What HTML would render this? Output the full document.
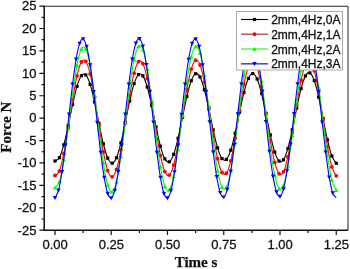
<!DOCTYPE html><html><head><meta charset="utf-8"><style>html,body{margin:0;padding:0;background:#fff;width:350px;height:269px;overflow:hidden}svg{display:block}#w{width:350px;height:269px;will-change:transform}</style></head><body>
<div id="w"><svg width="350" height="269" viewBox="0 0 350 269">
<rect width="350" height="269" fill="#fff"/>
<g>
<rect width="350" height="269" fill="#fff"/>
<defs><clipPath id="pc"><rect x="44.2" y="6.25" width="303.8" height="224.05"/></clipPath></defs>
<g clip-path="url(#pc)">
<path d="M55.00 161.01C55.73 160.46 57.93 160.37 59.39 157.69C60.86 155.00 62.32 150.23 63.79 144.90C65.25 139.56 66.72 132.39 68.18 125.66C69.65 118.93 71.11 111.05 72.58 104.51C74.04 97.98 75.51 91.25 76.97 86.46C78.44 81.66 79.90 77.67 81.37 75.75C82.83 73.83 84.30 73.51 85.76 74.95C87.23 76.39 88.69 79.92 90.16 84.42C91.62 88.92 93.09 95.45 94.55 101.95C96.02 108.45 97.48 116.46 98.95 123.42C100.41 130.39 101.88 137.97 103.34 143.75C104.80 149.54 106.27 154.90 107.73 158.14C109.20 161.38 110.66 163.27 112.13 163.19C113.59 163.12 115.06 161.07 116.52 157.70C117.99 154.32 119.45 148.82 120.92 142.94C122.38 137.06 123.85 129.41 125.31 122.41C126.78 115.42 128.24 107.42 129.71 100.96C131.17 94.49 132.64 88.04 134.10 83.64C135.57 79.24 137.03 75.85 138.50 74.55C139.96 73.25 141.43 73.73 142.89 75.81C144.36 77.89 145.82 82.07 147.29 87.03C148.75 91.98 150.21 98.88 151.68 105.54C153.14 112.20 154.61 120.19 156.07 126.98C157.54 133.77 159.00 140.96 160.47 146.28C161.93 151.60 163.40 156.29 164.86 158.88C166.33 161.47 167.79 162.57 169.26 161.81C170.72 161.06 172.19 158.28 173.65 154.36C175.12 150.44 176.58 144.44 178.05 138.28C179.51 132.11 180.98 124.32 182.44 117.36C183.91 110.41 185.37 102.65 186.84 96.55C188.30 90.45 189.77 84.57 191.23 80.76C192.70 76.96 194.16 74.35 195.62 73.73C197.09 73.10 198.55 74.36 200.02 77.03C201.48 79.70 202.95 84.44 204.41 89.75C205.88 95.06 207.34 102.20 208.81 108.89C210.27 115.59 211.74 123.43 213.20 129.93C214.67 136.43 216.13 143.12 217.60 147.89C219.06 152.66 220.53 156.63 221.99 158.54C223.46 160.45 224.92 160.76 226.39 159.36C227.85 157.96 229.32 154.53 230.78 150.16C232.25 145.78 233.71 139.42 235.18 133.10C236.64 126.78 238.11 119.00 239.57 112.23C241.04 105.45 242.50 98.09 243.96 92.46C245.43 86.83 246.89 81.62 248.36 78.47C249.82 75.32 251.29 73.47 252.75 73.56C254.22 73.64 255.68 75.65 257.15 78.98C258.61 82.31 260.08 87.74 261.54 93.55C263.01 99.36 264.47 106.91 265.94 113.82C267.40 120.73 268.87 128.63 270.33 135.01C271.80 141.39 273.26 147.77 274.73 152.11C276.19 156.46 277.66 159.81 279.12 161.09C280.59 162.37 282.05 161.90 283.52 159.79C284.98 157.69 286.45 153.47 287.91 148.46C289.38 143.46 290.84 136.49 292.30 129.76C293.77 123.04 295.23 114.97 296.70 108.11C298.16 101.25 299.63 93.98 301.09 88.61C302.56 83.24 304.02 78.49 305.49 75.88C306.95 73.27 308.42 72.14 309.88 72.92C311.35 73.70 312.81 76.54 314.28 80.57C315.74 84.59 317.21 90.73 318.67 97.06C320.14 103.38 321.60 111.37 323.07 118.50C324.53 125.63 326.00 133.58 327.46 139.84C328.93 146.09 330.39 152.12 331.86 156.03C333.32 159.93 335.52 162.04 336.25 163.24" fill="none" stroke="#000000" stroke-width="1.1" stroke-linejoin="round"/>
<rect x="53.40" y="159.41" width="3.20" height="3.20" fill="#000000"/>
<rect x="57.79" y="156.09" width="3.20" height="3.20" fill="#000000"/>
<rect x="62.19" y="143.30" width="3.20" height="3.20" fill="#000000"/>
<rect x="66.58" y="124.06" width="3.20" height="3.20" fill="#000000"/>
<rect x="70.98" y="102.91" width="3.20" height="3.20" fill="#000000"/>
<rect x="75.37" y="84.86" width="3.20" height="3.20" fill="#000000"/>
<rect x="79.77" y="74.15" width="3.20" height="3.20" fill="#000000"/>
<rect x="84.16" y="73.35" width="3.20" height="3.20" fill="#000000"/>
<rect x="88.56" y="82.82" width="3.20" height="3.20" fill="#000000"/>
<rect x="92.95" y="100.35" width="3.20" height="3.20" fill="#000000"/>
<rect x="97.35" y="121.82" width="3.20" height="3.20" fill="#000000"/>
<rect x="101.74" y="142.15" width="3.20" height="3.20" fill="#000000"/>
<rect x="106.13" y="156.54" width="3.20" height="3.20" fill="#000000"/>
<rect x="110.53" y="161.59" width="3.20" height="3.20" fill="#000000"/>
<rect x="114.92" y="156.10" width="3.20" height="3.20" fill="#000000"/>
<rect x="119.32" y="141.34" width="3.20" height="3.20" fill="#000000"/>
<rect x="123.71" y="120.81" width="3.20" height="3.20" fill="#000000"/>
<rect x="128.11" y="99.36" width="3.20" height="3.20" fill="#000000"/>
<rect x="132.50" y="82.04" width="3.20" height="3.20" fill="#000000"/>
<rect x="136.90" y="72.95" width="3.20" height="3.20" fill="#000000"/>
<rect x="141.29" y="74.21" width="3.20" height="3.20" fill="#000000"/>
<rect x="145.69" y="85.43" width="3.20" height="3.20" fill="#000000"/>
<rect x="150.08" y="103.94" width="3.20" height="3.20" fill="#000000"/>
<rect x="154.47" y="125.38" width="3.20" height="3.20" fill="#000000"/>
<rect x="158.87" y="144.68" width="3.20" height="3.20" fill="#000000"/>
<rect x="163.26" y="157.28" width="3.20" height="3.20" fill="#000000"/>
<rect x="167.66" y="160.21" width="3.20" height="3.20" fill="#000000"/>
<rect x="172.05" y="152.76" width="3.20" height="3.20" fill="#000000"/>
<rect x="176.45" y="136.68" width="3.20" height="3.20" fill="#000000"/>
<rect x="180.84" y="115.76" width="3.20" height="3.20" fill="#000000"/>
<rect x="185.24" y="94.95" width="3.20" height="3.20" fill="#000000"/>
<rect x="189.63" y="79.16" width="3.20" height="3.20" fill="#000000"/>
<rect x="194.03" y="72.13" width="3.20" height="3.20" fill="#000000"/>
<rect x="198.42" y="75.43" width="3.20" height="3.20" fill="#000000"/>
<rect x="202.81" y="88.15" width="3.20" height="3.20" fill="#000000"/>
<rect x="207.21" y="107.29" width="3.20" height="3.20" fill="#000000"/>
<rect x="211.60" y="128.33" width="3.20" height="3.20" fill="#000000"/>
<rect x="216.00" y="146.29" width="3.20" height="3.20" fill="#000000"/>
<rect x="220.39" y="156.94" width="3.20" height="3.20" fill="#000000"/>
<rect x="224.79" y="157.76" width="3.20" height="3.20" fill="#000000"/>
<rect x="229.18" y="148.56" width="3.20" height="3.20" fill="#000000"/>
<rect x="233.58" y="131.50" width="3.20" height="3.20" fill="#000000"/>
<rect x="237.97" y="110.63" width="3.20" height="3.20" fill="#000000"/>
<rect x="242.36" y="90.86" width="3.20" height="3.20" fill="#000000"/>
<rect x="246.76" y="76.87" width="3.20" height="3.20" fill="#000000"/>
<rect x="251.15" y="71.96" width="3.20" height="3.20" fill="#000000"/>
<rect x="255.55" y="77.38" width="3.20" height="3.20" fill="#000000"/>
<rect x="259.94" y="91.95" width="3.20" height="3.20" fill="#000000"/>
<rect x="264.34" y="112.22" width="3.20" height="3.20" fill="#000000"/>
<rect x="268.73" y="133.41" width="3.20" height="3.20" fill="#000000"/>
<rect x="273.13" y="150.51" width="3.20" height="3.20" fill="#000000"/>
<rect x="277.52" y="159.49" width="3.20" height="3.20" fill="#000000"/>
<rect x="281.92" y="158.19" width="3.20" height="3.20" fill="#000000"/>
<rect x="286.31" y="146.86" width="3.20" height="3.20" fill="#000000"/>
<rect x="290.70" y="128.16" width="3.20" height="3.20" fill="#000000"/>
<rect x="295.10" y="106.51" width="3.20" height="3.20" fill="#000000"/>
<rect x="299.49" y="87.01" width="3.20" height="3.20" fill="#000000"/>
<rect x="303.89" y="74.28" width="3.20" height="3.20" fill="#000000"/>
<rect x="308.28" y="71.32" width="3.20" height="3.20" fill="#000000"/>
<rect x="312.68" y="78.97" width="3.20" height="3.20" fill="#000000"/>
<rect x="317.07" y="95.46" width="3.20" height="3.20" fill="#000000"/>
<rect x="321.47" y="116.90" width="3.20" height="3.20" fill="#000000"/>
<rect x="325.86" y="138.24" width="3.20" height="3.20" fill="#000000"/>
<rect x="330.26" y="154.43" width="3.20" height="3.20" fill="#000000"/>
<rect x="334.65" y="161.64" width="3.20" height="3.20" fill="#000000"/>
<path d="M55.00 175.52C55.73 174.77 57.93 174.66 59.39 171.03C60.86 167.40 62.32 160.90 63.79 153.72C65.25 146.54 66.72 136.93 68.18 127.95C69.65 118.97 71.11 108.48 72.58 99.82C74.04 91.15 75.51 82.26 76.97 75.96C78.44 69.66 79.90 64.46 81.37 62.01C82.83 59.57 84.30 59.28 85.76 61.28C87.23 63.28 88.69 68.03 90.16 74.02C91.62 80.01 93.09 88.66 94.55 97.23C96.02 105.80 97.48 116.31 98.95 125.43C100.41 134.55 101.88 144.45 103.34 151.97C104.80 159.49 106.27 166.43 107.73 170.57C109.20 174.72 110.66 177.05 112.13 176.85C113.59 176.65 115.06 173.86 116.52 169.37C117.99 164.89 119.45 157.66 120.92 149.96C122.38 142.26 123.85 132.29 125.31 123.19C126.78 114.10 128.24 103.74 129.71 95.40C131.17 87.05 132.64 78.75 134.10 73.13C135.57 67.50 137.03 63.23 138.50 61.65C139.96 60.07 141.43 60.83 142.89 63.64C144.36 66.46 145.82 72.00 147.29 78.52C148.75 85.04 150.21 94.07 151.68 102.75C153.14 111.43 154.61 121.82 156.07 130.62C157.54 139.42 159.00 148.71 160.47 155.55C161.93 162.38 163.40 168.38 164.86 171.64C166.33 174.90 167.79 176.20 169.26 175.10C170.72 174.00 172.19 170.26 173.65 165.05C175.12 159.84 176.58 151.94 178.05 143.85C179.51 135.76 180.98 125.56 182.44 116.50C183.91 107.43 185.37 97.36 186.84 89.46C188.30 81.56 189.77 73.98 191.23 69.12C192.70 64.25 194.16 60.96 195.62 60.27C197.09 59.58 198.55 61.35 200.02 64.98C201.48 68.61 202.95 74.98 204.41 82.06C205.88 89.14 207.34 98.62 208.81 107.48C210.27 116.34 211.74 126.68 213.20 135.23C214.67 143.78 216.13 152.55 217.60 158.76C219.06 164.98 220.53 170.11 221.99 172.52C223.46 174.94 224.92 175.21 226.39 173.26C227.85 171.31 229.32 166.67 230.78 160.81C232.25 154.96 233.71 146.51 235.18 138.14C236.64 129.77 238.11 119.50 239.57 110.58C241.04 101.67 242.50 92.01 243.96 84.66C245.43 77.30 246.89 70.53 248.36 66.48C249.82 62.43 251.29 60.14 252.75 60.35C254.22 60.55 255.68 63.29 257.15 67.71C258.61 72.12 260.08 79.24 261.54 86.82C263.01 94.40 264.47 104.22 265.94 113.17C267.40 122.13 268.87 132.33 270.33 140.54C271.80 148.76 273.26 156.93 274.73 162.47C276.19 168.00 277.66 172.21 279.12 173.76C280.59 175.32 282.05 174.57 283.52 171.77C284.98 168.97 286.45 163.45 287.91 156.95C289.38 150.46 290.84 141.47 292.30 132.82C293.77 124.17 295.23 113.82 296.70 105.06C298.16 96.29 299.63 87.04 301.09 80.23C302.56 73.42 304.02 67.44 305.49 64.20C306.95 60.95 308.42 59.65 309.88 60.75C311.35 61.86 312.81 65.60 314.28 70.82C315.74 76.04 317.21 83.96 318.67 92.06C320.14 100.17 321.60 110.38 323.07 119.47C324.53 128.55 326.00 138.65 327.46 146.56C328.93 154.47 330.39 162.07 331.86 166.94C333.32 171.82 335.52 174.33 336.25 175.80" fill="none" stroke="#ff0000" stroke-width="1.1" stroke-linejoin="round"/>
<circle cx="55.00" cy="175.52" r="1.90" fill="#ff0000"/>
<circle cx="59.39" cy="171.03" r="1.90" fill="#ff0000"/>
<circle cx="63.79" cy="153.72" r="1.90" fill="#ff0000"/>
<circle cx="68.18" cy="127.95" r="1.90" fill="#ff0000"/>
<circle cx="72.58" cy="99.82" r="1.90" fill="#ff0000"/>
<circle cx="76.97" cy="75.96" r="1.90" fill="#ff0000"/>
<circle cx="81.37" cy="62.01" r="1.90" fill="#ff0000"/>
<circle cx="85.76" cy="61.28" r="1.90" fill="#ff0000"/>
<circle cx="90.16" cy="74.02" r="1.90" fill="#ff0000"/>
<circle cx="94.55" cy="97.23" r="1.90" fill="#ff0000"/>
<circle cx="98.95" cy="125.43" r="1.90" fill="#ff0000"/>
<circle cx="103.34" cy="151.97" r="1.90" fill="#ff0000"/>
<circle cx="107.73" cy="170.57" r="1.90" fill="#ff0000"/>
<circle cx="112.13" cy="176.85" r="1.90" fill="#ff0000"/>
<circle cx="116.52" cy="169.37" r="1.90" fill="#ff0000"/>
<circle cx="120.92" cy="149.96" r="1.90" fill="#ff0000"/>
<circle cx="125.31" cy="123.19" r="1.90" fill="#ff0000"/>
<circle cx="129.71" cy="95.40" r="1.90" fill="#ff0000"/>
<circle cx="134.10" cy="73.13" r="1.90" fill="#ff0000"/>
<circle cx="138.50" cy="61.65" r="1.90" fill="#ff0000"/>
<circle cx="142.89" cy="63.64" r="1.90" fill="#ff0000"/>
<circle cx="147.29" cy="78.52" r="1.90" fill="#ff0000"/>
<circle cx="151.68" cy="102.75" r="1.90" fill="#ff0000"/>
<circle cx="156.07" cy="130.62" r="1.90" fill="#ff0000"/>
<circle cx="160.47" cy="155.55" r="1.90" fill="#ff0000"/>
<circle cx="164.86" cy="171.64" r="1.90" fill="#ff0000"/>
<circle cx="169.26" cy="175.10" r="1.90" fill="#ff0000"/>
<circle cx="173.65" cy="165.05" r="1.90" fill="#ff0000"/>
<circle cx="178.05" cy="143.85" r="1.90" fill="#ff0000"/>
<circle cx="182.44" cy="116.50" r="1.90" fill="#ff0000"/>
<circle cx="186.84" cy="89.46" r="1.90" fill="#ff0000"/>
<circle cx="191.23" cy="69.12" r="1.90" fill="#ff0000"/>
<circle cx="195.62" cy="60.27" r="1.90" fill="#ff0000"/>
<circle cx="200.02" cy="64.98" r="1.90" fill="#ff0000"/>
<circle cx="204.41" cy="82.06" r="1.90" fill="#ff0000"/>
<circle cx="208.81" cy="107.48" r="1.90" fill="#ff0000"/>
<circle cx="213.20" cy="135.23" r="1.90" fill="#ff0000"/>
<circle cx="217.60" cy="158.76" r="1.90" fill="#ff0000"/>
<circle cx="221.99" cy="172.52" r="1.90" fill="#ff0000"/>
<circle cx="226.39" cy="173.26" r="1.90" fill="#ff0000"/>
<circle cx="230.78" cy="160.81" r="1.90" fill="#ff0000"/>
<circle cx="235.18" cy="138.14" r="1.90" fill="#ff0000"/>
<circle cx="239.57" cy="110.58" r="1.90" fill="#ff0000"/>
<circle cx="243.96" cy="84.66" r="1.90" fill="#ff0000"/>
<circle cx="248.36" cy="66.48" r="1.90" fill="#ff0000"/>
<circle cx="252.75" cy="60.35" r="1.90" fill="#ff0000"/>
<circle cx="257.15" cy="67.71" r="1.90" fill="#ff0000"/>
<circle cx="261.54" cy="86.82" r="1.90" fill="#ff0000"/>
<circle cx="265.94" cy="113.17" r="1.90" fill="#ff0000"/>
<circle cx="270.33" cy="140.54" r="1.90" fill="#ff0000"/>
<circle cx="274.73" cy="162.47" r="1.90" fill="#ff0000"/>
<circle cx="279.12" cy="173.76" r="1.90" fill="#ff0000"/>
<circle cx="283.52" cy="171.77" r="1.90" fill="#ff0000"/>
<circle cx="287.91" cy="156.95" r="1.90" fill="#ff0000"/>
<circle cx="292.30" cy="132.82" r="1.90" fill="#ff0000"/>
<circle cx="296.70" cy="105.06" r="1.90" fill="#ff0000"/>
<circle cx="301.09" cy="80.23" r="1.90" fill="#ff0000"/>
<circle cx="305.49" cy="64.20" r="1.90" fill="#ff0000"/>
<circle cx="309.88" cy="60.75" r="1.90" fill="#ff0000"/>
<circle cx="314.28" cy="70.82" r="1.90" fill="#ff0000"/>
<circle cx="318.67" cy="92.06" r="1.90" fill="#ff0000"/>
<circle cx="323.07" cy="119.47" r="1.90" fill="#ff0000"/>
<circle cx="327.46" cy="146.56" r="1.90" fill="#ff0000"/>
<circle cx="331.86" cy="166.94" r="1.90" fill="#ff0000"/>
<circle cx="336.25" cy="175.80" r="1.90" fill="#ff0000"/>
<path d="M55.00 187.80C55.73 186.79 57.93 186.40 59.39 181.75C60.86 177.11 62.32 168.88 63.79 159.95C65.25 151.02 66.72 139.18 68.18 128.18C69.65 117.17 71.11 104.40 72.58 93.92C74.04 83.44 75.51 72.77 76.97 65.29C78.44 57.80 79.90 51.74 81.37 49.03C82.83 46.32 84.30 46.27 85.76 49.04C87.23 51.81 88.69 57.99 90.16 65.64C91.62 73.29 93.09 84.22 94.55 94.95C96.02 105.69 97.48 118.78 98.95 130.06C100.41 141.35 101.88 153.51 103.34 162.68C104.80 171.85 106.27 180.21 107.73 185.10C109.20 189.99 110.66 192.58 112.13 192.02C113.59 191.46 115.06 187.63 116.52 181.72C117.99 175.81 119.45 166.44 120.92 156.57C122.38 146.70 123.85 134.00 125.31 122.50C126.78 111.00 128.24 97.98 129.71 87.57C131.17 77.15 132.64 66.88 134.10 60.01C135.57 53.14 137.03 48.06 138.50 46.35C139.96 44.64 141.43 45.93 142.89 49.76C144.36 53.59 145.82 60.88 147.29 69.33C148.75 77.77 150.21 89.36 151.68 100.42C153.14 111.49 154.61 124.64 156.07 135.71C157.54 146.78 159.00 158.38 160.47 166.85C161.93 175.31 163.40 182.63 164.86 186.49C166.33 190.34 167.79 191.64 169.26 189.99C170.72 188.34 172.19 183.35 173.65 176.61C175.12 169.86 176.58 159.77 178.05 149.53C179.51 139.28 180.98 126.47 182.44 115.14C183.91 103.82 185.37 91.31 186.84 81.57C188.30 71.84 189.77 62.59 191.23 56.75C192.70 50.91 194.16 47.11 195.62 46.53C197.09 45.95 198.55 48.47 200.02 53.27C201.48 58.06 202.95 66.26 204.41 75.27C205.88 84.29 207.34 96.24 208.81 107.35C210.27 118.46 211.74 131.35 213.20 141.93C214.67 152.51 216.13 163.28 217.60 170.84C219.06 178.39 220.53 184.51 221.99 187.25C223.46 189.99 224.92 190.01 226.39 187.29C227.85 184.58 229.32 178.49 230.78 170.95C232.25 163.42 233.71 152.66 235.18 142.09C236.64 131.52 238.11 118.63 239.57 107.52C241.04 96.41 242.50 84.44 243.96 75.41C245.43 66.38 246.89 58.15 248.36 53.34C249.82 48.52 251.29 45.98 252.75 46.52C254.22 47.06 255.68 50.80 257.15 56.57C258.61 62.33 260.08 71.47 261.54 81.10C263.01 90.73 264.47 103.12 265.94 114.33C267.40 125.55 268.87 138.25 270.33 148.41C271.80 158.57 273.26 168.59 274.73 175.30C276.19 182.00 277.66 186.97 279.12 188.63C280.59 190.29 282.05 189.04 283.52 185.26C284.98 181.49 286.45 174.31 287.91 166.00C289.38 157.68 290.84 146.27 292.30 135.38C293.77 124.48 295.23 111.54 296.70 100.64C298.16 89.74 299.63 78.31 301.09 69.98C302.56 61.65 304.02 54.44 305.49 50.65C306.95 46.85 308.42 45.55 309.88 47.20C311.35 48.85 312.81 53.82 314.28 60.54C315.74 67.27 317.21 77.33 318.67 87.54C320.14 97.75 321.60 110.53 323.07 121.82C324.53 133.11 326.00 145.58 327.46 155.28C328.93 164.99 330.39 174.21 331.86 180.03C333.32 185.85 335.52 188.52 336.25 190.22" fill="none" stroke="#00ff00" stroke-width="1.1" stroke-linejoin="round"/>
<path d="M55.00 185.60L57.20 189.56L52.80 189.56Z" fill="#00ff00"/>
<path d="M59.39 179.55L61.59 183.51L57.19 183.51Z" fill="#00ff00"/>
<path d="M63.79 157.75L65.99 161.71L61.59 161.71Z" fill="#00ff00"/>
<path d="M68.18 125.98L70.38 129.94L65.98 129.94Z" fill="#00ff00"/>
<path d="M72.58 91.72L74.78 95.68L70.38 95.68Z" fill="#00ff00"/>
<path d="M76.97 63.09L79.17 67.05L74.77 67.05Z" fill="#00ff00"/>
<path d="M81.37 46.83L83.57 50.79L79.17 50.79Z" fill="#00ff00"/>
<path d="M85.76 46.84L87.96 50.80L83.56 50.80Z" fill="#00ff00"/>
<path d="M90.16 63.44L92.36 67.40L87.96 67.40Z" fill="#00ff00"/>
<path d="M94.55 92.75L96.75 96.71L92.35 96.71Z" fill="#00ff00"/>
<path d="M98.95 127.86L101.15 131.82L96.75 131.82Z" fill="#00ff00"/>
<path d="M103.34 160.48L105.54 164.44L101.14 164.44Z" fill="#00ff00"/>
<path d="M107.73 182.90L109.93 186.86L105.53 186.86Z" fill="#00ff00"/>
<path d="M112.13 189.82L114.33 193.78L109.93 193.78Z" fill="#00ff00"/>
<path d="M116.52 179.52L118.72 183.48L114.32 183.48Z" fill="#00ff00"/>
<path d="M120.92 154.37L123.12 158.33L118.72 158.33Z" fill="#00ff00"/>
<path d="M125.31 120.30L127.51 124.26L123.11 124.26Z" fill="#00ff00"/>
<path d="M129.71 85.37L131.91 89.33L127.51 89.33Z" fill="#00ff00"/>
<path d="M134.10 57.81L136.30 61.77L131.90 61.77Z" fill="#00ff00"/>
<path d="M138.50 44.15L140.70 48.11L136.30 48.11Z" fill="#00ff00"/>
<path d="M142.89 47.56L145.09 51.52L140.69 51.52Z" fill="#00ff00"/>
<path d="M147.29 67.13L149.49 71.09L145.09 71.09Z" fill="#00ff00"/>
<path d="M151.68 98.22L153.88 102.18L149.48 102.18Z" fill="#00ff00"/>
<path d="M156.07 133.51L158.27 137.47L153.87 137.47Z" fill="#00ff00"/>
<path d="M160.47 164.65L162.67 168.61L158.27 168.61Z" fill="#00ff00"/>
<path d="M164.86 184.29L167.06 188.25L162.66 188.25Z" fill="#00ff00"/>
<path d="M169.26 187.79L171.46 191.75L167.06 191.75Z" fill="#00ff00"/>
<path d="M173.65 174.41L175.85 178.37L171.45 178.37Z" fill="#00ff00"/>
<path d="M178.05 147.33L180.25 151.29L175.85 151.29Z" fill="#00ff00"/>
<path d="M182.44 112.94L184.64 116.90L180.24 116.90Z" fill="#00ff00"/>
<path d="M186.84 79.37L189.04 83.33L184.64 83.33Z" fill="#00ff00"/>
<path d="M191.23 54.55L193.43 58.51L189.03 58.51Z" fill="#00ff00"/>
<path d="M195.62 44.33L197.82 48.29L193.43 48.29Z" fill="#00ff00"/>
<path d="M200.02 51.07L202.22 55.03L197.82 55.03Z" fill="#00ff00"/>
<path d="M204.41 73.07L206.61 77.03L202.21 77.03Z" fill="#00ff00"/>
<path d="M208.81 105.15L211.01 109.11L206.61 109.11Z" fill="#00ff00"/>
<path d="M213.20 139.73L215.40 143.69L211.00 143.69Z" fill="#00ff00"/>
<path d="M217.60 168.64L219.80 172.60L215.40 172.60Z" fill="#00ff00"/>
<path d="M221.99 185.05L224.19 189.01L219.79 189.01Z" fill="#00ff00"/>
<path d="M226.39 185.09L228.59 189.05L224.19 189.05Z" fill="#00ff00"/>
<path d="M230.78 168.75L232.98 172.71L228.58 172.71Z" fill="#00ff00"/>
<path d="M235.18 139.89L237.38 143.85L232.98 143.85Z" fill="#00ff00"/>
<path d="M239.57 105.32L241.77 109.28L237.37 109.28Z" fill="#00ff00"/>
<path d="M243.96 73.21L246.16 77.17L241.76 77.17Z" fill="#00ff00"/>
<path d="M248.36 51.14L250.56 55.10L246.16 55.10Z" fill="#00ff00"/>
<path d="M252.75 44.32L254.95 48.28L250.55 48.28Z" fill="#00ff00"/>
<path d="M257.15 54.37L259.35 58.33L254.95 58.33Z" fill="#00ff00"/>
<path d="M261.54 78.90L263.74 82.86L259.34 82.86Z" fill="#00ff00"/>
<path d="M265.94 112.13L268.14 116.09L263.74 116.09Z" fill="#00ff00"/>
<path d="M270.33 146.21L272.53 150.17L268.13 150.17Z" fill="#00ff00"/>
<path d="M274.73 173.10L276.93 177.06L272.53 177.06Z" fill="#00ff00"/>
<path d="M279.12 186.43L281.32 190.39L276.92 190.39Z" fill="#00ff00"/>
<path d="M283.52 183.06L285.72 187.02L281.32 187.02Z" fill="#00ff00"/>
<path d="M287.91 163.80L290.11 167.76L285.71 167.76Z" fill="#00ff00"/>
<path d="M292.30 133.18L294.50 137.14L290.10 137.14Z" fill="#00ff00"/>
<path d="M296.70 98.44L298.90 102.40L294.50 102.40Z" fill="#00ff00"/>
<path d="M301.09 67.78L303.29 71.74L298.89 71.74Z" fill="#00ff00"/>
<path d="M305.49 48.45L307.69 52.41L303.29 52.41Z" fill="#00ff00"/>
<path d="M309.88 45.00L312.08 48.96L307.68 48.96Z" fill="#00ff00"/>
<path d="M314.28 58.34L316.48 62.30L312.08 62.30Z" fill="#00ff00"/>
<path d="M318.67 85.34L320.87 89.30L316.47 89.30Z" fill="#00ff00"/>
<path d="M323.07 119.62L325.27 123.58L320.87 123.58Z" fill="#00ff00"/>
<path d="M327.46 153.08L329.66 157.04L325.26 157.04Z" fill="#00ff00"/>
<path d="M331.86 177.83L334.06 181.79L329.66 181.79Z" fill="#00ff00"/>
<path d="M336.25 188.02L338.45 191.98L334.05 191.98Z" fill="#00ff00"/>
<path d="M55.00 197.83C55.59 196.57 57.34 194.60 58.52 190.25C59.69 185.90 60.86 179.26 62.03 171.73C63.20 164.20 64.38 154.65 65.55 145.09C66.72 135.53 67.89 124.51 69.06 114.38C70.23 104.24 71.41 93.44 72.58 84.28C73.75 75.11 74.92 66.17 76.09 59.36C77.27 52.56 78.44 46.85 79.61 43.44C80.78 40.03 81.95 38.41 83.12 38.92C84.30 39.43 85.47 42.15 86.64 46.51C87.81 50.86 88.98 57.52 90.16 65.05C91.33 72.59 92.50 82.16 93.67 91.74C94.84 101.31 96.02 112.34 97.19 122.49C98.36 132.64 99.53 143.45 100.70 152.63C101.88 161.81 103.05 170.76 104.22 177.58C105.39 184.39 106.56 190.12 107.73 193.53C108.91 196.94 110.08 198.57 111.25 198.05C112.42 197.54 113.59 194.82 114.77 190.45C115.94 186.09 117.11 179.43 118.28 171.88C119.45 164.33 120.62 154.75 121.80 145.16C122.97 135.58 124.14 124.53 125.31 114.37C126.48 104.20 127.66 93.37 128.83 84.18C130.00 74.98 131.17 66.02 132.34 59.20C133.52 52.37 134.69 46.64 135.86 43.23C137.03 39.81 138.20 38.18 139.38 38.70C140.55 39.21 141.72 41.93 142.89 46.29C144.06 50.66 145.23 57.32 146.41 64.87C147.58 72.42 148.75 82.00 149.92 91.59C151.09 101.17 152.27 112.22 153.44 122.38C154.61 132.55 155.78 143.37 156.95 152.57C158.12 161.76 159.30 170.72 160.47 177.55C161.64 184.38 162.81 190.10 163.98 193.52C165.16 196.94 166.33 198.56 167.50 198.05C168.67 197.54 169.84 194.82 171.02 190.46C172.19 186.11 173.36 179.46 174.53 171.92C175.70 164.38 176.88 154.81 178.05 145.24C179.22 135.66 180.39 124.63 181.56 114.48C182.73 104.33 183.91 93.52 185.08 84.34C186.25 75.16 187.42 66.21 188.59 59.39C189.77 52.58 190.94 46.86 192.11 43.44C193.28 40.03 194.45 38.42 195.62 38.92C196.80 39.42 197.97 42.13 199.14 46.46C200.31 50.80 201.48 57.41 202.66 64.91C203.83 72.40 205.00 81.92 206.17 91.44C207.34 100.96 208.52 111.93 209.69 122.02C210.86 132.11 212.03 142.86 213.20 151.99C214.38 161.12 215.55 170.02 216.72 176.80C217.89 183.58 219.06 189.26 220.23 192.66C221.41 196.05 222.58 197.66 223.75 197.16C224.92 196.65 226.09 193.94 227.27 189.61C228.44 185.28 229.61 178.66 230.78 171.17C231.95 163.67 233.12 154.16 234.30 144.64C235.47 135.12 236.64 124.15 237.81 114.06C238.98 103.97 240.16 93.21 241.33 84.08C242.50 74.95 243.67 66.06 244.84 59.28C246.02 52.50 247.19 46.81 248.36 43.42C249.53 40.02 250.70 38.42 251.88 38.92C253.05 39.42 254.22 42.12 255.39 46.43C256.56 50.74 257.73 57.33 258.91 64.80C260.08 72.26 261.25 81.74 262.42 91.21C263.59 100.69 264.77 111.62 265.94 121.67C267.11 131.71 268.28 142.42 269.45 151.51C270.62 160.60 271.80 169.46 272.97 176.21C274.14 182.96 275.31 188.63 276.48 192.01C277.66 195.38 278.83 196.99 280.00 196.49C281.17 195.98 282.34 193.28 283.52 188.97C284.69 184.66 285.86 178.07 287.03 170.61C288.20 163.14 289.38 153.67 290.55 144.19C291.72 134.71 292.89 123.79 294.06 113.74C295.23 103.69 296.41 92.98 297.58 83.89C298.75 74.80 299.92 65.94 301.09 59.19C302.27 52.44 303.44 46.78 304.61 43.40C305.78 40.02 306.95 38.40 308.12 38.92C309.30 39.43 310.47 42.14 311.64 46.49C312.81 50.83 313.98 57.46 315.16 64.98C316.33 72.50 317.50 82.04 318.67 91.59C319.84 101.13 321.02 112.13 322.19 122.25C323.36 132.37 324.53 143.16 325.70 152.31C326.88 161.47 328.05 170.39 329.22 177.19C330.39 183.99 331.56 189.69 332.73 193.09C333.91 196.50 335.66 196.85 336.25 197.61" fill="none" stroke="#0000ff" stroke-width="1.1" stroke-linejoin="round"/>
<path d="M55.00 200.03L57.20 196.07L52.80 196.07Z" fill="#0000ff"/>
<path d="M58.52 192.45L60.72 188.49L56.32 188.49Z" fill="#0000ff"/>
<path d="M62.03 173.93L64.23 169.97L59.83 169.97Z" fill="#0000ff"/>
<path d="M65.55 147.29L67.75 143.33L63.35 143.33Z" fill="#0000ff"/>
<path d="M69.06 116.58L71.26 112.62L66.86 112.62Z" fill="#0000ff"/>
<path d="M72.58 86.48L74.78 82.52L70.38 82.52Z" fill="#0000ff"/>
<path d="M76.09 61.56L78.29 57.60L73.89 57.60Z" fill="#0000ff"/>
<path d="M79.61 45.64L81.81 41.68L77.41 41.68Z" fill="#0000ff"/>
<path d="M83.12 41.12L85.33 37.16L80.92 37.16Z" fill="#0000ff"/>
<path d="M86.64 48.71L88.84 44.75L84.44 44.75Z" fill="#0000ff"/>
<path d="M90.16 67.25L92.36 63.29L87.96 63.29Z" fill="#0000ff"/>
<path d="M93.67 93.94L95.87 89.98L91.47 89.98Z" fill="#0000ff"/>
<path d="M97.19 124.69L99.39 120.73L94.99 120.73Z" fill="#0000ff"/>
<path d="M100.70 154.83L102.90 150.87L98.50 150.87Z" fill="#0000ff"/>
<path d="M104.22 179.78L106.42 175.82L102.02 175.82Z" fill="#0000ff"/>
<path d="M107.73 195.73L109.93 191.77L105.53 191.77Z" fill="#0000ff"/>
<path d="M111.25 200.25L113.45 196.29L109.05 196.29Z" fill="#0000ff"/>
<path d="M114.77 192.65L116.97 188.69L112.57 188.69Z" fill="#0000ff"/>
<path d="M118.28 174.08L120.48 170.12L116.08 170.12Z" fill="#0000ff"/>
<path d="M121.80 147.36L124.00 143.40L119.60 143.40Z" fill="#0000ff"/>
<path d="M125.31 116.57L127.51 112.61L123.11 112.61Z" fill="#0000ff"/>
<path d="M128.83 86.38L131.03 82.42L126.63 82.42Z" fill="#0000ff"/>
<path d="M132.34 61.40L134.54 57.44L130.14 57.44Z" fill="#0000ff"/>
<path d="M135.86 45.43L138.06 41.47L133.66 41.47Z" fill="#0000ff"/>
<path d="M139.38 40.90L141.57 36.94L137.18 36.94Z" fill="#0000ff"/>
<path d="M142.89 48.49L145.09 44.53L140.69 44.53Z" fill="#0000ff"/>
<path d="M146.41 67.07L148.61 63.11L144.21 63.11Z" fill="#0000ff"/>
<path d="M149.92 93.79L152.12 89.83L147.72 89.83Z" fill="#0000ff"/>
<path d="M153.44 124.58L155.64 120.62L151.24 120.62Z" fill="#0000ff"/>
<path d="M156.95 154.77L159.15 150.81L154.75 150.81Z" fill="#0000ff"/>
<path d="M160.47 179.75L162.67 175.79L158.27 175.79Z" fill="#0000ff"/>
<path d="M163.98 195.72L166.18 191.76L161.78 191.76Z" fill="#0000ff"/>
<path d="M167.50 200.25L169.70 196.29L165.30 196.29Z" fill="#0000ff"/>
<path d="M171.02 192.66L173.22 188.70L168.82 188.70Z" fill="#0000ff"/>
<path d="M174.53 174.12L176.73 170.16L172.33 170.16Z" fill="#0000ff"/>
<path d="M178.05 147.44L180.25 143.48L175.85 143.48Z" fill="#0000ff"/>
<path d="M181.56 116.68L183.76 112.72L179.36 112.72Z" fill="#0000ff"/>
<path d="M185.08 86.54L187.28 82.58L182.88 82.58Z" fill="#0000ff"/>
<path d="M188.59 61.59L190.79 57.63L186.39 57.63Z" fill="#0000ff"/>
<path d="M192.11 45.64L194.31 41.68L189.91 41.68Z" fill="#0000ff"/>
<path d="M195.62 41.12L197.82 37.16L193.43 37.16Z" fill="#0000ff"/>
<path d="M199.14 48.66L201.34 44.70L196.94 44.70Z" fill="#0000ff"/>
<path d="M202.66 67.11L204.86 63.15L200.46 63.15Z" fill="#0000ff"/>
<path d="M206.17 93.64L208.37 89.68L203.97 89.68Z" fill="#0000ff"/>
<path d="M209.69 124.22L211.89 120.26L207.49 120.26Z" fill="#0000ff"/>
<path d="M213.20 154.19L215.40 150.23L211.00 150.23Z" fill="#0000ff"/>
<path d="M216.72 179.00L218.92 175.04L214.52 175.04Z" fill="#0000ff"/>
<path d="M220.23 194.86L222.43 190.90L218.03 190.90Z" fill="#0000ff"/>
<path d="M223.75 199.36L225.95 195.40L221.55 195.40Z" fill="#0000ff"/>
<path d="M227.27 191.81L229.47 187.85L225.07 187.85Z" fill="#0000ff"/>
<path d="M230.78 173.37L232.98 169.41L228.58 169.41Z" fill="#0000ff"/>
<path d="M234.30 146.84L236.50 142.88L232.10 142.88Z" fill="#0000ff"/>
<path d="M237.81 116.26L240.01 112.30L235.61 112.30Z" fill="#0000ff"/>
<path d="M241.33 86.28L243.53 82.32L239.13 82.32Z" fill="#0000ff"/>
<path d="M244.84 61.48L247.04 57.52L242.64 57.52Z" fill="#0000ff"/>
<path d="M248.36 45.62L250.56 41.66L246.16 41.66Z" fill="#0000ff"/>
<path d="M251.88 41.12L254.07 37.16L249.68 37.16Z" fill="#0000ff"/>
<path d="M255.39 48.63L257.59 44.67L253.19 44.67Z" fill="#0000ff"/>
<path d="M258.91 67.00L261.11 63.04L256.71 63.04Z" fill="#0000ff"/>
<path d="M262.42 93.41L264.62 89.45L260.22 89.45Z" fill="#0000ff"/>
<path d="M265.94 123.87L268.14 119.91L263.74 119.91Z" fill="#0000ff"/>
<path d="M269.45 153.71L271.65 149.75L267.25 149.75Z" fill="#0000ff"/>
<path d="M272.97 178.41L275.17 174.45L270.77 174.45Z" fill="#0000ff"/>
<path d="M276.48 194.21L278.68 190.25L274.28 190.25Z" fill="#0000ff"/>
<path d="M280.00 198.69L282.20 194.73L277.80 194.73Z" fill="#0000ff"/>
<path d="M283.52 191.17L285.72 187.21L281.32 187.21Z" fill="#0000ff"/>
<path d="M287.03 172.81L289.23 168.85L284.83 168.85Z" fill="#0000ff"/>
<path d="M290.55 146.39L292.75 142.43L288.35 142.43Z" fill="#0000ff"/>
<path d="M294.06 115.94L296.26 111.98L291.86 111.98Z" fill="#0000ff"/>
<path d="M297.58 86.09L299.78 82.13L295.38 82.13Z" fill="#0000ff"/>
<path d="M301.09 61.39L303.29 57.43L298.89 57.43Z" fill="#0000ff"/>
<path d="M304.61 45.60L306.81 41.64L302.41 41.64Z" fill="#0000ff"/>
<path d="M308.12 41.12L310.32 37.16L305.93 37.16Z" fill="#0000ff"/>
<path d="M311.64 48.69L313.84 44.73L309.44 44.73Z" fill="#0000ff"/>
<path d="M315.16 67.18L317.36 63.22L312.96 63.22Z" fill="#0000ff"/>
<path d="M318.67 93.79L320.87 89.83L316.47 89.83Z" fill="#0000ff"/>
<path d="M322.19 124.45L324.39 120.49L319.99 120.49Z" fill="#0000ff"/>
<path d="M325.70 154.51L327.90 150.55L323.50 150.55Z" fill="#0000ff"/>
<path d="M329.22 179.39L331.42 175.43L327.02 175.43Z" fill="#0000ff"/>
<path d="M332.73 195.29L334.93 191.33L330.53 191.33Z" fill="#0000ff"/>
</g>
<path d="M44.2 6.25H348.0V230.3" fill="none" stroke="#222" stroke-width="1"/>
<path d="M44.2 5.75V230.3H348.0" fill="none" stroke="#111" stroke-width="1.5"/>
<path d="M39.40 230.20H44.2 M41.60 219.00H44.2 M39.40 207.79H44.2 M41.60 196.59H44.2 M39.40 185.38H44.2 M41.60 174.18H44.2 M39.40 162.97H44.2 M41.60 151.77H44.2 M39.40 140.56H44.2 M41.60 129.36H44.2 M39.40 118.15H44.2 M41.60 106.95H44.2 M39.40 95.74H44.2 M41.60 84.53H44.2 M39.40 73.33H44.2 M41.60 62.12H44.2 M39.40 50.92H44.2 M41.60 39.72H44.2 M39.40 28.51H44.2 M41.60 17.31H44.2 M39.40 6.10H44.2 M55.00 230.3V235.10 M83.12 230.3V232.90 M111.25 230.3V235.10 M139.38 230.3V232.90 M167.50 230.3V235.10 M195.62 230.3V232.90 M223.75 230.3V235.10 M251.88 230.3V232.90 M280.00 230.3V235.10 M308.12 230.3V232.90 M336.25 230.3V235.10" stroke="#111" stroke-width="1.2" fill="none"/>
<g font-family="Liberation Sans, sans-serif" font-size="13" fill="#111" stroke="#111" stroke-width="0.3">
<text x="36.4" y="234.50" text-anchor="end">-25</text>
<text x="36.4" y="212.09" text-anchor="end">-20</text>
<text x="36.4" y="189.68" text-anchor="end">-15</text>
<text x="36.4" y="167.27" text-anchor="end">-10</text>
<text x="36.4" y="144.86" text-anchor="end">-5</text>
<text x="36.4" y="122.45" text-anchor="end">0</text>
<text x="36.4" y="100.04" text-anchor="end">5</text>
<text x="36.4" y="77.63" text-anchor="end">10</text>
<text x="36.4" y="55.22" text-anchor="end">15</text>
<text x="36.4" y="32.81" text-anchor="end">20</text>
<text x="36.4" y="10.40" text-anchor="end">25</text>
<text x="55.20" y="248.7" text-anchor="middle">0.00</text>
<text x="111.45" y="248.7" text-anchor="middle">0.25</text>
<text x="167.70" y="248.7" text-anchor="middle">0.50</text>
<text x="223.95" y="248.7" text-anchor="middle">0.75</text>
<text x="280.20" y="248.7" text-anchor="middle">1.00</text>
<text x="336.45" y="248.7" text-anchor="middle">1.25</text>
</g>
<g font-family="Liberation Serif, serif" font-weight="bold" font-size="15" fill="#111" stroke="#111" stroke-width="0.25">
<text x="196" y="267.3" text-anchor="middle">Time s</text>
<text transform="translate(11.2 127.2) rotate(-90)" text-anchor="middle">Force N</text>
</g>
<rect x="236.5" y="11.5" width="106.0" height="58.5" fill="#fff" stroke="#aaa" stroke-width="1"/>
<path d="M241 19.5H268" stroke="#000" stroke-width="1.1"/>
<rect x="252.90" y="17.90" width="3.20" height="3.20" fill="#000000"/>
<text x="271.2" y="24.10" font-family="Liberation Sans, sans-serif" font-size="12" fill="#111" stroke="#111" stroke-width="0.3">2mm,4Hz,0A</text>
<path d="M241 34.2H268" stroke="#b4505a" stroke-width="1.4"/>
<circle cx="254.50" cy="34.20" r="1.90" fill="#ff0000"/>
<text x="271.2" y="38.80" font-family="Liberation Sans, sans-serif" font-size="12" fill="#111" stroke="#111" stroke-width="0.3">2mm,4Hz,1A</text>
<path d="M241 49.0H268" stroke="#30f030" stroke-width="1.2"/>
<path d="M254.50 46.80L256.70 50.76L252.30 50.76Z" fill="#00ff00"/>
<text x="271.2" y="53.60" font-family="Liberation Sans, sans-serif" font-size="12" fill="#111" stroke="#111" stroke-width="0.3">2mm,4Hz,2A</text>
<path d="M241 63.8H268" stroke="#5050b0" stroke-width="1.6"/>
<path d="M254.50 66.00L256.70 62.04L252.30 62.04Z" fill="#0000ff"/>
<text x="271.2" y="68.40" font-family="Liberation Sans, sans-serif" font-size="12" fill="#111" stroke="#111" stroke-width="0.3">2mm,4Hz,3A</text>
</g></svg></div></body></html>
